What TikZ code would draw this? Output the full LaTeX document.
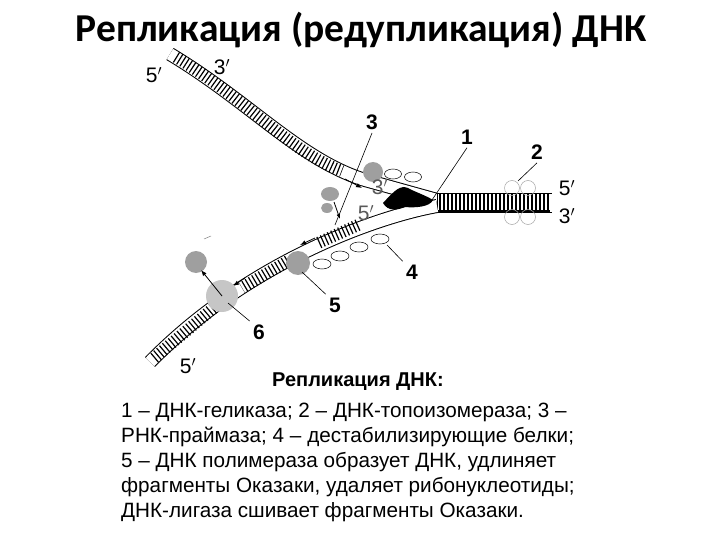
\documentclass[tikz,border=0pt]{standalone}
\usepackage{fontspec}
\setmainfont{Liberation Sans}
\newfontfamily\titlefont{Carlito}
\usetikzlibrary{arrows.meta,shapes.geometric}
\begin{document}
\begin{tikzpicture}[x=1pt,y=-1pt,
  band/.style={line width=14pt,black},
  bandin/.style={line width=12pt,white},
  rungs/.style={line width=12pt,dash pattern=on 1.2pt off 2.6pt,black},
  prot/.style={fill=gray!75,draw=none},
  ell/.style={draw=black,fill=white,line width=0.5pt,ellipse,minimum width=18,minimum height=10,inner sep=0},
  lead/.style={line width=0.6pt},
  num/.style={font=\bfseries\fontsize{21}{21}\selectfont},
  prime/.style={font=\fontsize{21}{21}\selectfont,inner sep=1pt}]
\useasboundingbox (0,0) rectangle (720,540);
\fill[white] (0,0) rectangle (720,540);
\node[font=\titlefont\bfseries\fontsize{39.5}{40}\selectfont,inner sep=0] (title) at (361,30) {Репликация (редупликация) ДНК};
% upper strand
\draw[band] (170,54) .. controls (250,102) and (300,160) .. (365,180) -- (437,200);
\draw[bandin] (170,54) .. controls (250,102) and (300,160) .. (365,180) -- (437,200);
\draw[rungs] (176,57) .. controls (250,102) and (290,152) .. (342,171);
\draw[-{Latex[length=6pt]},line width=0.8pt] (345,179) -- (362,188);
% duplex
\fill[black] (437,193) rectangle (550,212);
\fill[white] (438,194.5) rectangle (550,210.5);
\foreach \x in {440,444,...,548} \draw[line width=1.3pt] (\x,194) -- (\x,211);
\draw[line width=0.8pt] (437,193) -- (552,193);
\draw[line width=0.8pt] (437,212) -- (552,212);
% lower strand
\draw[band] (437,206) .. controls (380,216) and (250,260) .. (150,362);
\draw[bandin] (437,206) .. controls (380,216) and (250,260) .. (150,362);
\draw[rungs] (358,225) -- (318,243);
\draw[rungs] (288,261) -- (242,288);
\draw[rungs] (222,301) -- (153,359);
\draw[-{Latex[length=6pt]},line width=0.8pt] (315,238) -- (300,245);
\draw[-{Latex[length=6pt]},line width=0.8pt] (245,278) -- (233,286);
% proteins
\fill[prot] (373,172) circle (10);
\node[ell,minimum width=17] (e1) at (393,174) {};
\node[ell,minimum width=17] (e2) at (413,177) {};
\fill[black] (383,203) .. controls (395,190) and (400,185) .. (408,188) .. controls (415,192) and (425,195) .. (433,200) .. controls (430,207) and (415,208) .. (405,207) .. controls (398,210) and (388,212) .. (383,203) -- cycle;
\fill[prot] (330,194) ellipse (9 and 7);
\fill[prot] (327,208) ellipse (6 and 5);
\draw[-{Latex[length=5pt]},line width=0.8pt] (334,202) -- (340,219);
\fill[prot] (298,263) circle (12);
\node[ell] (e3) at (322,264) {};
\node[ell] (e4) at (340,256) {};
\node[ell] (e5) at (359,247) {};
\node[ell] (e6) at (380,239) {};
\fill[prot] (196,262) circle (11);
\fill[gray!45] (222,296) circle (16);
\draw[-{Latex[length=6pt]},line width=0.8pt] (222,296) -- (201,270);
\draw[line width=0.5pt,gray] (204,239) -- (211,236);
% topoisomerase
\foreach \p in {(512,188),(528,188),(512,217),(528,217)}
  \draw[gray!70,line width=0.5pt] \p circle (7.5);
% labels
\node[num] (n3) at (372,122) {3};
\draw[lead] (n3.south) -- (335,225);
\node[num] (n1) at (467,137) {1};
\draw[lead] (n1.south) -- (432,200);
\node[num] (n2) at (537,152) {2};
\draw[lead] (n2.south) -- (518,181);
\node[num] (n4) at (412,272) {4};
\draw[lead] (n4.north west) -- (387,245);
\node[num] (n5) at (335,305) {5};
\draw[lead] (n5.north west) -- (302,272);
\node[num] (n6) at (259,332) {6};
\draw[lead] (n6.north west) -- (228,303);
\node[prime] (p1) at (154,75) {5$'$};
\node[prime] (p2) at (222,67) {3$'$};
\node[prime] (p3) at (567,188) {5$'$};
\node[prime] (p4) at (567,216) {3$'$};
\node[prime] (p5) at (188,366) {5$'$};
\node[prime,gray!70!black] (p6) at (380,187) {3$'$};
\node[prime,gray!70!black] (p7) at (366,213) {5$'$};
% caption
\node[font=\bfseries\fontsize{20}{20}\selectfont] (cap) at (358,382) {Репликация ДНК:};
\node[anchor=north west,align=left,font=\fontsize{20.7}{25}\selectfont,inner sep=0] (txt) at (121,403) {1 – ДНК-геликаза; 2 – ДНК-топоизомераза; 3 –\\РНК-праймаза; 4 – дестабилизирующие белки;\\5 – ДНК полимераза образует ДНК, удлиняет\\фрагменты Оказаки, удаляет рибонуклеотиды;\\ДНК-лигаза сшивает фрагменты Оказаки.};
\end{tikzpicture}
\end{document}
